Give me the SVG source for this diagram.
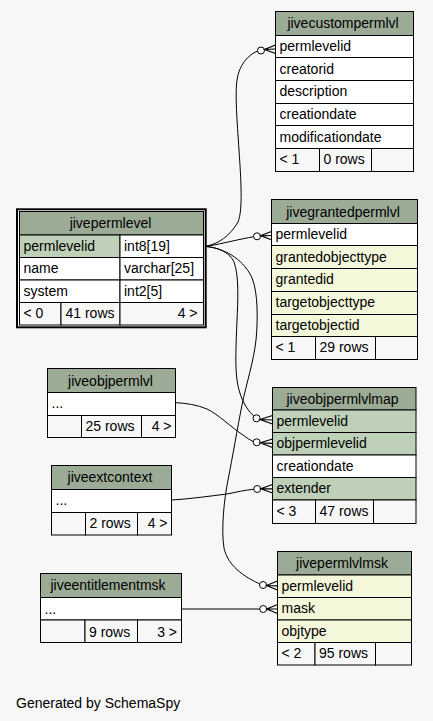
<svg xmlns="http://www.w3.org/2000/svg" width="433" height="721" viewBox="0 0 433 721">
<style>
text{font-family:"Liberation Sans",Arial,Helvetica,sans-serif;font-size:14px;fill:#000}
.m{text-anchor:middle}
.r{text-anchor:end}
rect{stroke:#000;stroke-width:1}
.h{fill:#9bab96}
.pk{fill:#bed1b8}
.ix{fill:#f4f7da}
.w{fill:#fff}
.f{fill:#f7f7f7}
.e{fill:none;stroke:#000;stroke-width:1}
.o{fill:#fff;stroke:#000;stroke-width:1}
.cr{fill:none;stroke:#000;stroke-width:1.2}
</style>
<rect x="0" y="0" width="433" height="721" style="fill:#f7f7f7;stroke:none"/>

<g id="connectors">
  <path class="e" d="M206.5,246 C218,244 230,236 238,222 C243,210 241,180 239,150 C237,120 235,95 237,80 C239,65 248,55 257.5,51"/>
  <circle class="o" cx="261" cy="50.5" r="3.5"/>
  <path class="cr" d="M275.5,45 L264.5,49.5 L275.5,53.5 M264.5,49.5 L275.5,49"/>

  <path class="e" d="M206.5,246.5 C225,243 240,239 253.5,236.8"/>
  <circle class="o" cx="257" cy="236.3" r="3.5"/>
  <path class="cr" d="M271.5,231.5 L260.5,235.8 L271.5,239.8 M260.5,235.8 L271.5,235.5"/>

  <path class="e" d="M206.5,246.5 C220,248 230,253 234,262 C239,275 238,300 237,320 C236,345 235,365 237,380 C239,395 245,408 253.5,415.8"/>
  <circle class="o" cx="256.5" cy="418.3" r="3.5"/>
  <path class="cr" d="M272.5,415.5 L260,419.5 L272.5,424 M260,419.5 L272.5,420"/>

  <path class="e" d="M206.5,246.5 C228,249 245,262 252,278 C258,292 258,320 256,340 C254,360 246,385 242,405 C238,425 232,460 228,480 C224,500 221,530 224,548 C227,562 238,574 259.5,583.8"/>
  <circle class="o" cx="263" cy="585" r="3.5"/>
  <path class="cr" d="M277.5,581 L266.5,585.5 L277.5,590 M266.5,585.5 L277.5,585.8"/>

  <path class="e" d="M175.5,402.7 C185,403 198,405 207,409 C218,414 232,428 243,435 C247,438 250,440 253.3,441.5"/>
  <circle class="o" cx="256.7" cy="442.3" r="3.5"/>
  <path class="cr" d="M272.5,439 L260.2,442.8 L272.5,447.5 M260.2,442.8 L272.5,443.3"/>

  <path class="e" d="M171.5,500 C190,499 210,496 227,494 C237,492 245,490 253.7,489.3"/>
  <circle class="o" cx="257.2" cy="489" r="3.5"/>
  <path class="cr" d="M272.5,484.5 L260.7,488.8 L272.5,493 M260.7,488.8 L272.5,488.8"/>

  <path class="e" d="M181.5,609 L259.7,609"/>
  <circle class="o" cx="263.2" cy="609" r="3.5"/>
  <path class="cr" d="M277.5,604.5 L266.7,609 L277.5,613.5 M266.7,609 L277.5,609"/>
</g>

<g id="jivecustompermlvl">
  <rect class="h" x="275.5" y="11.5" width="138" height="24"/>
  <rect class="w" x="275.5" y="35.5" width="138" height="22"/>
  <rect class="w" x="275.5" y="57.5" width="138" height="23"/>
  <rect class="w" x="275.5" y="80.5" width="138" height="23"/>
  <rect class="w" x="275.5" y="103.5" width="138" height="22"/>
  <rect class="w" x="275.5" y="125.5" width="138" height="23"/>
  <rect class="f" x="275.5" y="148.5" width="44" height="23"/>
  <rect class="f" x="319.5" y="148.5" width="52" height="23"/>
  <rect class="f" x="371.5" y="148.5" width="42" height="23"/>
  <text class="m" x="343" y="28">jivecustompermlvl</text>
  <text x="279.5" y="51">permlevelid</text>
  <text x="279.5" y="73.5">creatorid</text>
  <text x="279.5" y="96">description</text>
  <text x="279.5" y="119">creationdate</text>
  <text x="279.5" y="141.5">modificationdate</text>
  <text x="279.5" y="164">&lt; 1</text>
  <text x="323.5" y="164">0 rows</text>
</g>

<g id="jivegrantedpermlvl">
  <rect class="h" x="271.5" y="199.5" width="146" height="24"/>
  <rect class="w" x="271.5" y="223.5" width="146" height="22"/>
  <rect class="ix" x="271.5" y="245.5" width="146" height="23"/>
  <rect class="ix" x="271.5" y="268.5" width="146" height="23"/>
  <rect class="ix" x="271.5" y="291.5" width="146" height="23"/>
  <rect class="ix" x="271.5" y="314.5" width="146" height="22"/>
  <rect class="f" x="271.5" y="336.5" width="44" height="23"/>
  <rect class="f" x="315.5" y="336.5" width="60" height="23"/>
  <rect class="f" x="375.5" y="336.5" width="42" height="23"/>
  <text class="m" x="343" y="216.5">jivegrantedpermlvl</text>
  <text x="275.5" y="239">permlevelid</text>
  <text x="275.5" y="261.5">grantedobjecttype</text>
  <text x="275.5" y="284">grantedid</text>
  <text x="275.5" y="307">targetobjecttype</text>
  <text x="275.5" y="329.5">targetobjectid</text>
  <text x="275.5" y="352">&lt; 1</text>
  <text x="319.5" y="352">29 rows</text>
</g>

<g id="jivepermlevel">
  <rect x="17" y="209.3" width="188.7" height="118" style="fill:#fff;stroke:#000;stroke-width:2"/>
  <rect class="h" x="19.5" y="211.5" width="184" height="23.5"/>
  <rect class="pk" x="19.5" y="235" width="100.5" height="22.5"/>
  <rect class="w" x="120" y="235" width="83.5" height="22.5"/>
  <rect class="w" x="19.5" y="257.5" width="100.5" height="22.5"/>
  <rect class="w" x="120" y="257.5" width="83.5" height="22.5"/>
  <rect class="w" x="19.5" y="280" width="100.5" height="22.5"/>
  <rect class="w" x="120" y="280" width="83.5" height="22.5"/>
  <rect class="f" x="19.5" y="302.5" width="41.5" height="22.5"/>
  <rect class="f" x="61" y="302.5" width="59" height="22.5"/>
  <rect class="f" x="120" y="302.5" width="83.5" height="22.5"/>
  <text class="m" x="110.5" y="227.5">jivepermlevel</text>
  <text x="23.5" y="250.5">permlevelid</text>
  <text x="124" y="250.5">int8[19]</text>
  <text x="23.5" y="273">name</text>
  <text x="124" y="273">varchar[25]</text>
  <text x="23.5" y="295.5">system</text>
  <text x="124" y="295.5">int2[5]</text>
  <text x="23.5" y="318">&lt; 0</text>
  <text x="65.5" y="318">41 rows</text>
  <text class="r" x="197.5" y="318">4 &gt;</text>
</g>

<g id="jiveobjpermlvl">
  <rect class="h" x="47.5" y="368.5" width="128" height="24"/>
  <rect class="w" x="47.5" y="392.5" width="128" height="23"/>
  <rect class="f" x="47.5" y="415.5" width="34" height="22"/>
  <rect class="f" x="81.5" y="415.5" width="60" height="22"/>
  <rect class="f" x="141.5" y="415.5" width="34" height="22"/>
  <text class="m" x="110.5" y="385.5">jiveobjpermlvl</text>
  <text x="51.5" y="408">...</text>
  <text x="85.5" y="431">25 rows</text>
  <text class="r" x="171.5" y="431">4 &gt;</text>
</g>

<g id="jiveobjpermlvlmap">
  <rect class="h" x="272.5" y="387.5" width="143.5" height="22.5"/>
  <rect class="pk" x="272.5" y="410" width="143.5" height="22.5"/>
  <rect class="pk" x="272.5" y="432.5" width="143.5" height="22.5"/>
  <rect class="w" x="272.5" y="455" width="143.5" height="22.5"/>
  <rect class="pk" x="272.5" y="477.5" width="143.5" height="22.5"/>
  <rect class="f" x="272.5" y="500" width="43" height="23.5"/>
  <rect class="f" x="315.5" y="500" width="58" height="23.5"/>
  <rect class="f" x="373.5" y="500" width="42.5" height="23.5"/>
  <text class="m" x="342.5" y="404">jiveobjpermlvlmap</text>
  <text x="276.5" y="425.5">permlevelid</text>
  <text x="276.5" y="448">objpermlevelid</text>
  <text x="276.5" y="470.5">creationdate</text>
  <text x="276.5" y="493">extender</text>
  <text x="276.5" y="516">&lt; 3</text>
  <text x="319.5" y="516">47 rows</text>
</g>

<g id="jiveextcontext">
  <rect class="h" x="51.5" y="465.5" width="120" height="24"/>
  <rect class="w" x="51.5" y="489.5" width="120" height="23"/>
  <rect class="f" x="51.5" y="512.5" width="34" height="22.5"/>
  <rect class="f" x="85.5" y="512.5" width="52" height="22.5"/>
  <rect class="f" x="137.5" y="512.5" width="34" height="22.5"/>
  <text class="m" x="110" y="482">jiveextcontext</text>
  <text x="55.5" y="505">...</text>
  <text x="89.5" y="528">2 rows</text>
  <text class="r" x="167.5" y="528">4 &gt;</text>
</g>

<g id="jiveentitlementmsk">
  <rect class="h" x="40.5" y="573.5" width="141" height="24"/>
  <rect class="w" x="40.5" y="597.5" width="141" height="22.5"/>
  <rect class="f" x="40.5" y="620" width="44.5" height="22.5"/>
  <rect class="f" x="85" y="620" width="52.5" height="22.5"/>
  <rect class="f" x="137.5" y="620" width="44" height="22.5"/>
  <text class="m" x="108" y="589.5">jiveentitlementmsk</text>
  <text x="44.5" y="614">...</text>
  <text x="89" y="636.5">9 rows</text>
  <text class="r" x="177" y="636.5">3 &gt;</text>
</g>

<g id="jivepermlvlmsk">
  <rect class="h" x="277.5" y="551.5" width="134" height="23.5"/>
  <rect class="ix" x="277.5" y="575" width="134" height="22.5"/>
  <rect class="ix" x="277.5" y="597.5" width="134" height="22.5"/>
  <rect class="ix" x="277.5" y="620" width="134" height="22.5"/>
  <rect class="f" x="277.5" y="642.5" width="37.5" height="22.5"/>
  <rect class="f" x="315" y="642.5" width="60.5" height="22.5"/>
  <rect class="f" x="375.5" y="642.5" width="36" height="22.5"/>
  <text class="m" x="342" y="568">jivepermlvlmsk</text>
  <text x="281.5" y="590.5">permlevelid</text>
  <text x="281.5" y="613">mask</text>
  <text x="281.5" y="635.5">objtype</text>
  <text x="281.5" y="658">&lt; 2</text>
  <text x="319" y="658">95 rows</text>
</g>

<text x="16" y="708">Generated by SchemaSpy</text>
</svg>
